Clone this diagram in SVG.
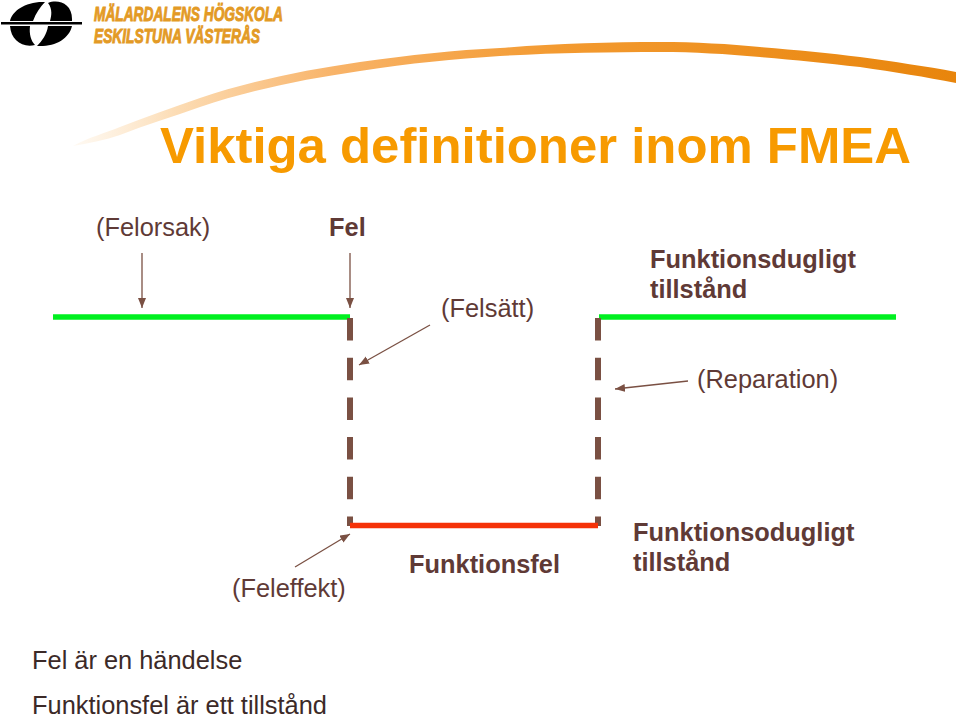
<svg xmlns="http://www.w3.org/2000/svg" width="959" height="718" viewBox="0 0 959 718">
<style>
text{font-family:"Liberation Sans",Arial,sans-serif;fill:#5f3a36;font-size:25.4px}
.b{font-weight:bold}
.lt{font-size:20px;font-weight:bold;font-style:italic;fill:#e39a25;stroke:#e39a25;stroke-width:1}
.a{stroke:#7a5043;stroke-width:1.3;fill:none;marker-end:url(#ah)}
.g{stroke:#00f020;stroke-width:5.5;fill:none}
.d{stroke:#7a5043;stroke-width:6;fill:none;stroke-dasharray:22.5 17.2}
</style>
<defs>
<marker id="ah" markerUnits="userSpaceOnUse" markerWidth="12" markerHeight="10" refX="10" refY="4" orient="auto"><path d="M0 0L10 4L0 8Z" fill="#7a5043"/></marker>
<linearGradient id="sw" gradientUnits="userSpaceOnUse" x1="70" y1="0" x2="957" y2="0"><stop offset="0" stop-color="#fde6c8" stop-opacity="0.2"/><stop offset="0.12" stop-color="#fcdcb4"/><stop offset="0.3" stop-color="#f8b368"/><stop offset="0.55" stop-color="#f39a30"/><stop offset="1" stop-color="#e8850c"/></linearGradient>
</defs>
<rect width="959" height="718" fill="#fff"/>
<g id="logo">
<path d="M10 21C12 11 26 1 45 2C40 7 36 13 33 21Z" fill="#000"/>
<path d="M48 3C58 -1 73 3 72 21H50C52 14 52 8 48 3Z" fill="#000"/>
<path d="M10 26H30C29 34 31 41 35 45C22 48 11 40 10 26Z" fill="#000"/>
<path d="M37 46C42 41 47 34 48 26H72C69 39 55 47 37 46Z" fill="#000"/>
<rect x="1" y="22" width="81" height="2.500" fill="#000"/>
<text x="94" y="20.500" class="lt" textLength="189" lengthAdjust="spacingAndGlyphs">MÄLARDALENS HÖGSKOLA</text>
<text x="94" y="43" class="lt" textLength="166" lengthAdjust="spacingAndGlyphs">ESKILSTUNA VÄSTERÅS</text>
</g>
<path id="swoosh" d="M73 146C90 137 105 133 120 127C145 117 172 108 200 98C250 81 305 70 360 62C410 55 455 50 500 48C550 44 610 42 660 42C695 42 730 44 760 47C795 50 830 53 860 57C895 62 925 66 956 72L956 83C925 77 895 72 860 67C825 63 795 60 760 57C725 54 695 52 660 52C610 52 550 53 500 56C455 59 410 63 360 71C305 79 250 90 200 107C172 117 145 125 120 135C105 140 90 143 73 146Z" fill="url(#sw)"/>
<text id="title" x="160" y="163" style="font-size:50px;font-weight:bold;fill:#f79a00" textLength="751" lengthAdjust="spacingAndGlyphs">Viktiga definitioner inom FMEA</text>
<g id="connectors">
<line class="g" x1="53" y1="317" x2="350" y2="317"/>
<line class="g" x1="599" y1="317" x2="896" y2="317"/>
<line class="d" x1="350" y1="318" x2="350" y2="526"/>
<line class="d" x1="598" y1="318" x2="598" y2="526"/>
<line x1="350" y1="525.500" x2="598" y2="525.500" stroke="#f53208" stroke-width="5.500"/>
<line class="a" x1="142" y1="253" x2="142" y2="308"/>
<line class="a" x1="350" y1="253" x2="350" y2="308"/>
<line class="a" x1="430" y1="325" x2="359" y2="365"/>
<line class="a" x1="688" y1="381" x2="615" y2="389"/>
<line class="a" x1="295" y1="567" x2="350" y2="534"/>
</g>
<g id="labels">
<text x="96" y="236">(Felorsak)</text>
<text x="329" y="236" class="b">Fel</text>
<text x="441" y="317">(Felsätt)</text>
<text x="650" y="268" class="b">Funktionsdugligt</text>
<text x="650" y="298" class="b">tillstånd</text>
<text x="697" y="388">(Reparation)</text>
<text x="232" y="597">(Feleffekt)</text>
<text x="409" y="573" class="b">Funktionsfel</text>
<text x="633" y="541" class="b">Funktionsodugligt</text>
<text x="633" y="571" class="b">tillstånd</text>
<text x="32" y="669" style="fill:#3c2a28">Fel är en händelse</text>
<text x="32" y="714" style="fill:#3c2a28">Funktionsfel är ett tillstånd</text>
</g>
</svg>
